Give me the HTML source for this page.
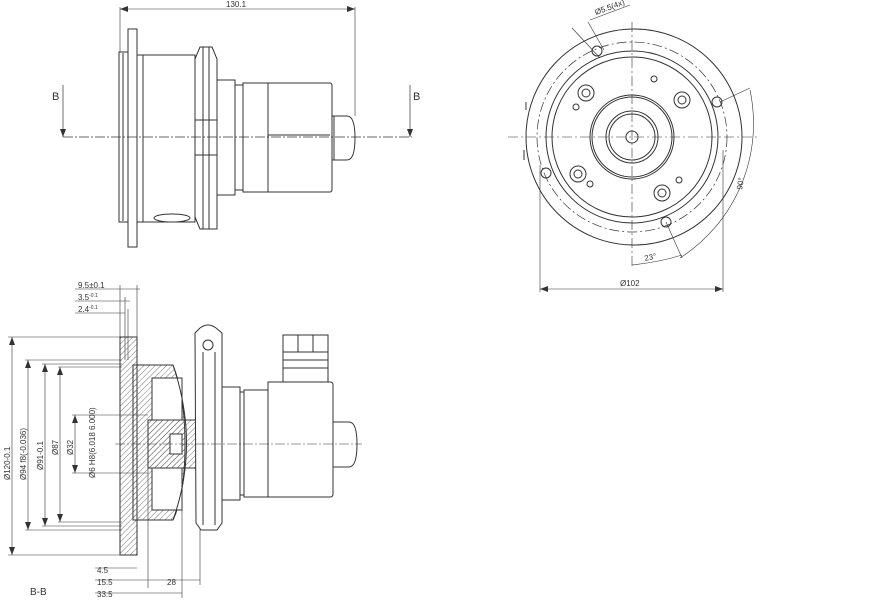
<!DOCTYPE html>
<html><head><meta charset="utf-8"><style>
html,body{margin:0;padding:0;background:#fff;width:889px;height:600px;overflow:hidden}
svg{display:block}
text{font-family:"Liberation Sans",sans-serif;fill:#333}
</style></head><body>
<svg width="889" height="600" viewBox="0 0 889 600" xmlns="http://www.w3.org/2000/svg">
<defs>
<pattern id="h" width="4" height="4" patternUnits="userSpaceOnUse" patternTransform="rotate(45)">
<line x1="0" y1="0" x2="0" y2="4" stroke="#555" stroke-width="0.8"/></pattern>
<marker id="a" markerWidth="8" markerHeight="6" refX="8" refY="3" orient="auto-start-reverse" markerUnits="userSpaceOnUse"><path d="M0,0 L8,3 L0,6z" fill="#333"/></marker>
</defs>
<g fill="none" stroke="#333" stroke-width="1">
<!-- TOP LEFT VIEW -->
<line x1="120" y1="7" x2="120" y2="52" stroke-width="0.6"/>
<line x1="355" y1="7" x2="355" y2="116" stroke-width="0.6"/>
<line x1="120" y1="9" x2="355" y2="9" stroke-width="0.6" marker-start="url(#a)" marker-end="url(#a)"/>
<rect x="128" y="29" width="9" height="218" fill="#fff"/>
<rect x="119" y="52" width="9" height="170"/>
<line x1="123" y1="53" x2="123" y2="221"/>
<rect x="137" y="55" width="58" height="167"/>
<line x1="143" y1="55" x2="143" y2="222"/>
<path d="M200,47 h12 l5,12 v170 h-17 l-5,-12 v-158z"/>
<line x1="203" y1="47" x2="203" y2="229"/><line x1="209" y1="47" x2="209" y2="229"/>
<path d="M195,120 h22 v35 h-22z"/>
<ellipse cx="172" cy="218" rx="18" ry="4"/>
<rect x="217" y="80" width="18" height="115"/>
<rect x="235" y="85" width="8" height="105"/>
<rect x="243" y="83" width="25" height="109"/>
<path d="M268,83 h62 q2,0 2,3 v103 q0,3 -2,3 h-62z"/>
<line x1="268" y1="135" x2="330" y2="135"/>
<path d="M332,116 h15 q8,0 8,22 q0,22 -8,22 h-15z"/>
<line x1="334" y1="116" x2="334" y2="160"/>
<line x1="63" y1="137" x2="412" y2="137" stroke-dasharray="10,2,2,2" stroke-width="0.7"/>
<line x1="63" y1="85" x2="63" y2="137" stroke-width="0.7" marker-end="url(#a)"/>
<line x1="410" y1="85" x2="410" y2="137" stroke-width="0.7" marker-end="url(#a)"/>

<!-- TOP RIGHT VIEW -->
<circle cx="634" cy="137" r="108"/>
<circle cx="632" cy="137" r="95" stroke-dasharray="10,3,2,3" stroke-width="0.7"/>
<circle cx="632" cy="137" r="86"/>
<circle cx="632" cy="137" r="80"/>
<circle cx="632" cy="137" r="42"/>
<circle cx="632" cy="137" r="40"/>
<circle cx="632" cy="137" r="26"/>
<circle cx="632" cy="137" r="23"/>
<circle cx="632" cy="137" r="6"/>
<line x1="508" y1="137" x2="760" y2="137" stroke-dasharray="10,3,2,3" stroke-width="0.6"/>
<line x1="632" y1="22" x2="632" y2="268" stroke-dasharray="10,3,2,3" stroke-width="0.6"/>
<g>
<circle cx="586" cy="93" r="8"/><circle cx="586" cy="93" r="4"/>
<circle cx="682" cy="100" r="8"/><circle cx="682" cy="100" r="4"/>
<circle cx="578" cy="174" r="8"/><circle cx="578" cy="174" r="4"/>
<circle cx="662" cy="193" r="8"/><circle cx="662" cy="193" r="4"/>
<circle cx="654" cy="79" r="3"/><circle cx="576" cy="107" r="3"/>
<circle cx="590" cy="184" r="3"/><circle cx="679" cy="180" r="3"/>
<circle cx="597" cy="51" r="5"/><circle cx="717" cy="102" r="5"/>
<circle cx="546" cy="173" r="5"/><circle cx="666" cy="222" r="5"/>
</g>
<path d="M526,102 v8 M524,150 v10" />
<line x1="540" y1="165" x2="540" y2="292" stroke-width="0.6"/>
<line x1="723" y1="150" x2="723" y2="292" stroke-width="0.6"/>
<line x1="540" y1="289" x2="723" y2="289" stroke-width="0.6" marker-start="url(#a)" marker-end="url(#a)"/>
<line x1="572" y1="28" x2="600" y2="58" stroke-width="0.6"/>
<line x1="588" y1="22" x2="604" y2="50" stroke-width="0.6"/>
<line x1="590" y1="20" x2="630" y2="5" stroke-width="0.6"/>
<line x1="720" y1="102" x2="750" y2="88" stroke-width="0.6"/>
<path d="M750,90 A160,160 0 0 1 680,258" stroke-width="0.6"/>
<line x1="666" y1="222" x2="682" y2="258" stroke-width="0.6"/>
<path d="M632,265 Q660,262 682,255" stroke-width="0.6"/>

<!-- BOTTOM SECTION -->
<g stroke-width="0.6">
<line x1="75" y1="289" x2="140" y2="289"/><line x1="75" y1="301" x2="130" y2="301"/><line x1="75" y1="313" x2="125" y2="313"/>
<line x1="120" y1="285" x2="120" y2="360"/><line x1="125" y1="297" x2="125" y2="360"/><line x1="128" y1="309" x2="128" y2="360"/><line x1="137" y1="285" x2="137" y2="337"/>
<line x1="8" y1="337" x2="128" y2="337"/><line x1="8" y1="555" x2="128" y2="555"/>
<line x1="25" y1="360" x2="122" y2="360"/><line x1="25" y1="530" x2="122" y2="530"/>
<line x1="42" y1="364" x2="122" y2="364"/><line x1="42" y1="526" x2="122" y2="526"/>
<line x1="58" y1="367" x2="122" y2="367"/><line x1="58" y1="522" x2="122" y2="522"/>
<line x1="72" y1="415" x2="148" y2="415"/><line x1="72" y1="473" x2="148" y2="473"/>
<line x1="12" y1="337" x2="12" y2="555" marker-start="url(#a)" marker-end="url(#a)"/>
<line x1="28" y1="360" x2="28" y2="530" marker-start="url(#a)" marker-end="url(#a)"/>
<line x1="45" y1="364" x2="45" y2="526" marker-start="url(#a)" marker-end="url(#a)"/>
<line x1="60" y1="367" x2="60" y2="522" marker-start="url(#a)" marker-end="url(#a)"/>
<line x1="75" y1="415" x2="75" y2="473" marker-start="url(#a)" marker-end="url(#a)"/>
<line x1="95" y1="568" x2="137" y2="568"/><line x1="95" y1="580" x2="200" y2="580"/><line x1="95" y1="593" x2="182" y2="593"/>
<line x1="148" y1="440" x2="148" y2="588"/><line x1="182" y1="470" x2="182" y2="598"/><line x1="200" y1="520" x2="200" y2="585"/>
</g>
<rect x="120" y="337" width="17" height="218" fill="url(#h)"/>
<path d="M133,365 h40 q12,30 12,80 q0,50 -12,75 h-40z" fill="url(#h)"/>
<path d="M152,378 h30 v42 h-30z M152,468 h30 v42 h-30z" fill="#fff"/>
<rect x="148" y="420" width="52" height="48" fill="url(#h)"/>
<rect x="170" y="434" width="12" height="20" fill="#fff"/>
<path d="M173,365 Q200,444 173,520"/>
<path d="M195,333 l5,-5 q8,-6 16,0 l6,5 v190 l-5,7 h-16 l-5,-7z" fill="#fff"/>
<circle cx="208" cy="345" r="5"/>
<line x1="203" y1="352" x2="203" y2="525"/><line x1="215" y1="352" x2="215" y2="525"/>
<rect x="222" y="387" width="18" height="113"/>
<rect x="240" y="392" width="4" height="103"/>
<rect x="244" y="390" width="24" height="107"/>
<path d="M268,382 h62 q3,0 3,3 v109 q0,3 -3,3 h-62z"/>
<rect x="283" y="335" width="45" height="47"/>
<line x1="283" y1="352" x2="328" y2="352"/><line x1="283" y1="360" x2="328" y2="360"/><line x1="283" y1="368" x2="328" y2="368"/>
<line x1="298" y1="335" x2="298" y2="352"/><line x1="313" y1="335" x2="313" y2="352"/>
<path d="M333,422 h16 q8,0 8,22 q0,23 -8,23 h-16z"/>
<line x1="115" y1="444" x2="362" y2="444" stroke-dasharray="10,2,2,2" stroke-width="0.6"/>
</g>
<g font-size="9">
<text x="226" y="7" font-size="8">130.1</text>
<text x="52" y="100" font-size="11">B</text>
<text x="413" y="100" font-size="11">B</text>
<text x="596" y="15" font-size="8" transform="rotate(-20 596 15)">Ø5.5(4x)</text>
<text x="645" y="261" font-size="8" transform="rotate(-12 645 261)">23°</text>
<text x="742" y="190" font-size="8" transform="rotate(-80 742 190)">90°</text>
<text x="620" y="286" font-size="8">Ø102</text>
<text x="78" y="288" font-size="8">9.5±0.1</text>
<text x="78" y="300" font-size="8">3.5<tspan font-size="5" dy="-3">-0.1</tspan></text>
<text x="78" y="312" font-size="8">2.4<tspan font-size="5" dy="-3">-0.1</tspan></text>
<text x="10" y="480" font-size="8" transform="rotate(-90 10 480)">Ø120-0.1</text>
<text x="26" y="480" font-size="8" transform="rotate(-90 26 480)">Ø94 f8(-0.036)</text>
<text x="43" y="470" font-size="8" transform="rotate(-90 43 470)">Ø91-0.1</text>
<text x="58" y="455" font-size="8" transform="rotate(-90 58 455)">Ø87</text>
<text x="73" y="455" font-size="8" transform="rotate(-90 73 455)">Ø32</text>
<text x="95" y="478" font-size="8" transform="rotate(-90 95 478)">Ø6 H8(6.018 6.000)</text>
<text x="97" y="573" font-size="8">4.5</text>
<text x="97" y="585" font-size="8">15.5</text>
<text x="97" y="597" font-size="8">33.5</text>
<text x="167" y="585" font-size="8">28</text>
<text x="30" y="595" font-size="10">B-B</text>
</g>
</svg>
</body></html>
